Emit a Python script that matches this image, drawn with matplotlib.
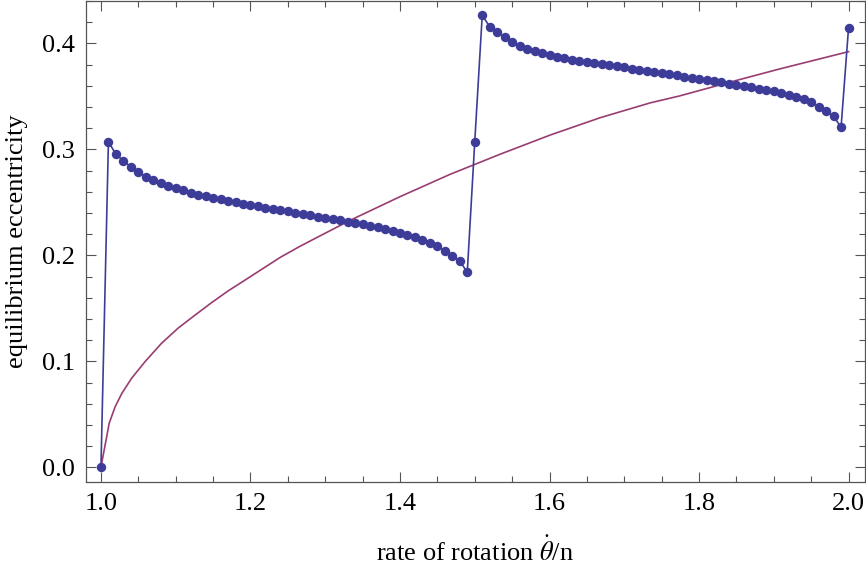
import matplotlib
matplotlib.use("Agg")
import matplotlib.pyplot as plt
from matplotlib import ticker as mticker
import numpy as np

# equilibrium eccentricity, x = 1.00 .. 2.00 step 0.01
rate = np.round(np.arange(1.00, 2.001, 0.01), 2)
ecc_dots = [
  0.0000,
  0.3073, 0.2954, 0.2894, 0.2834, 0.2787, 0.2743, 0.2709, 0.2683, 0.2655, 0.2633,
  0.2614, 0.2592, 0.2573, 0.2558, 0.2542, 0.2530, 0.2516, 0.2504, 0.2488, 0.2476,
  0.2463, 0.2450, 0.2438, 0.2429, 0.2416, 0.2403, 0.2391, 0.2378, 0.2365, 0.2353,
  0.2344, 0.2331, 0.2318, 0.2306, 0.2294, 0.2278, 0.2265, 0.2249, 0.2233, 0.2214,
  0.2195, 0.2174, 0.2148, 0.2120, 0.2086, 0.2044, 0.1994, 0.1947, 0.1840, 0.3073,
  0.4266, 0.4159, 0.4109, 0.4059, 0.4014, 0.3979, 0.3951, 0.3929, 0.3910, 0.3894,
  0.3875, 0.3863, 0.3847, 0.3835, 0.3823, 0.3813, 0.3804, 0.3794, 0.3785, 0.3775,
  0.3762, 0.3753, 0.3743, 0.3734, 0.3724, 0.3712, 0.3700, 0.3687, 0.3674, 0.3665,
  0.3655, 0.3643, 0.3634, 0.3621, 0.3608, 0.3599, 0.3587, 0.3573, 0.3561, 0.3549,
  0.3533, 0.3514, 0.3495, 0.3473, 0.3445, 0.3404, 0.3360, 0.3313, 0.3209, 0.4149,
]

# smooth curve, sampled by eye
curve_rate = [1.000, 1.011, 1.019, 1.028, 1.041, 1.059, 1.081, 1.103, 1.126, 1.148,
              1.170, 1.193, 1.240, 1.266, 1.333, 1.400, 1.467, 1.534, 1.601, 1.668,
              1.735, 1.774, 1.844, 1.908, 2.000]
curve_ecc = [0.0000, 0.0415, 0.0572, 0.0698, 0.0840, 0.0997, 0.1170, 0.1312, 0.1437, 0.1554,
             0.1664, 0.1768, 0.1982, 0.2085, 0.2330, 0.2554, 0.2765, 0.2955, 0.3136, 0.3300,
             0.3440, 0.3505, 0.3640, 0.3760, 0.3923]

x_ticks = [1.0, 1.2, 1.4, 1.6, 1.8, 2.0]
y_ticks = [0.0, 0.1, 0.2, 0.3, 0.4]

plt.rcParams["font.family"] = ["Liberation Serif", "DejaVu Serif"]
plt.rcParams["mathtext.fontset"] = "stix"

dot_color = "#3d3d99"
curve_color = "#993d71"
frame_color = "#555555"

fig = plt.figure(figsize=(8.66, 5.74), dpi=100)
ax = fig.add_axes([86 / 866, 92 / 574, 779 / 866, 481 / 574])

ax.plot(curve_rate, curve_ecc, color=curve_color, linewidth=1.2, zorder=2)
ax.plot(rate, ecc_dots, color=dot_color, linewidth=1.2, marker="o",
        markersize=6.8, markeredgewidth=0, zorder=3)

ax.set_xlim(0.98, 2.022)
ax.set_ylim(-0.0139, 0.4401)
ax.set_xticks(x_ticks)
ax.set_yticks(y_ticks)
ax.xaxis.set_minor_locator(mticker.MultipleLocator(0.05))
ax.yaxis.set_minor_locator(mticker.MultipleLocator(0.02))
ax.xaxis.set_major_formatter(mticker.FormatStrFormatter("%.1f"))
ax.yaxis.set_major_formatter(mticker.FormatStrFormatter("%.1f"))

ax.tick_params(which="both", direction="in", top=True, right=True,
               color=frame_color, width=0.8, labelsize=19, pad=8)
ax.tick_params(which="major", length=7)
ax.tick_params(which="minor", length=4)
for spine in ax.spines.values():
  spine.set_color(frame_color)
  spine.set_linewidth(0.9)

ax.set_xlabel(r"rate of rotation $\dot{\theta}$/n", fontsize=19, labelpad=16)
ax.set_ylabel("equilibrium eccentricity", fontsize=19, labelpad=10)

fig.savefig("out.png", dpi=100, facecolor="white")
plt.close(fig)
